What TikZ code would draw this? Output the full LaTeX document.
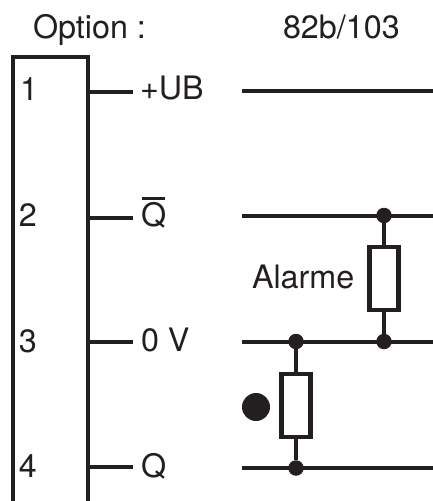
\documentclass[tikz,border=0pt]{standalone}
\usepackage{fontspec}
\setmainfont{TeX Gyre Heros}
\tikzset{
  wire/.style={line width=4.8pt,color=ink,line cap=butt},
  lbl/.style={anchor=base west,inner sep=0pt,outer sep=0pt,text=ink,font=\fontsize{32.3pt}{35pt}\selectfont},
  res/.style={draw=ink,line width=4.2pt,fill=white,rectangle,inner sep=0pt,outer sep=0pt},
  junction/.style={circle,fill=ink,inner sep=0pt,outer sep=0pt,minimum size=15.5pt},
}
\definecolor{ink}{HTML}{231F20}
\begin{document}
\begin{tikzpicture}[x=1pt,y=-1pt]
\useasboundingbox (0,0) rectangle (433,501);
% device box, open at the bottom
\draw[ink,line width=4.6pt,miter limit=10] (13,501) -- (13,57) -- (88,57) -- (88,501);
% pins
\coordinate (p1) at (88,92);
\coordinate (p2) at (88,218);
\coordinate (p3) at (88,342);
\coordinate (p4) at (88,467);
\coordinate (e1) at (133,92);
\coordinate (e2) at (133,218);
\coordinate (e3) at (133,342);
\coordinate (e4) at (133,467);
\draw[wire] (p1) -- (e1);
\draw[wire] (p2) -- (e2);
\draw[wire] (p3) -- (e3);
\draw[wire] (p4) -- (e4);
% headers and labels
\node[lbl] (opt) at (33,38) {Option :};
\node[lbl] (ref) at (283,38) {82b/103};
\node[lbl] (n1) at (20,100) {1};
\node[lbl] (n2) at (19,226) {2};
\node[lbl] (n3) at (19,352) {3};
\node[lbl] (n4) at (19,477) {4};
\node[lbl] (ub) at (140,99) {+UB};
\node[lbl] (qb) at (141,226) {Q};
\draw[ink,line width=2.8pt] (142,198.5) -- (165,198.5);
\node[lbl] (ov) at (141,351) {0 V};
\node[lbl] (q) at (141,477) {Q};
\node[lbl] (al) at (252,288) {Alarme};
% rails
\coordinate (r1a) at (242,91);
\coordinate (r1b) at (433,91);
\coordinate (r2a) at (242,216);
\coordinate (r2b) at (433,216);
\coordinate (r3a) at (242,342);
\coordinate (r3b) at (433,342);
\coordinate (r4a) at (242,468);
\coordinate (r4b) at (433,468);
\draw[wire] (r1a) -- (r1b);
\draw[wire] (r2a) -- (r2b);
\draw[wire] (r3a) -- (r3b);
\draw[wire] (r4a) -- (r4b);
% alarm branch
\node[junction] (j1) at (384,215.5) {};
\node[junction] (j2) at (384,341.5) {};
\node[res,minimum width=29pt,minimum height=63pt] (ra) at (384,278.5) {};
\draw[wire] (j1) -- (ra);
\draw[wire] (ra) -- (j2);
% led branch
\node[junction] (j3) at (296,341.5) {};
\node[junction] (j4) at (296,468) {};
\node[res,minimum width=29pt,minimum height=63pt] (rb) at (296,405.5) {};
\draw[wire] (j3) -- (rb);
\draw[wire] (rb) -- (j4);
\node[circle,fill=ink,inner sep=0pt,minimum size=28pt] (led) at (256,407) {};
\end{tikzpicture}
\end{document}
